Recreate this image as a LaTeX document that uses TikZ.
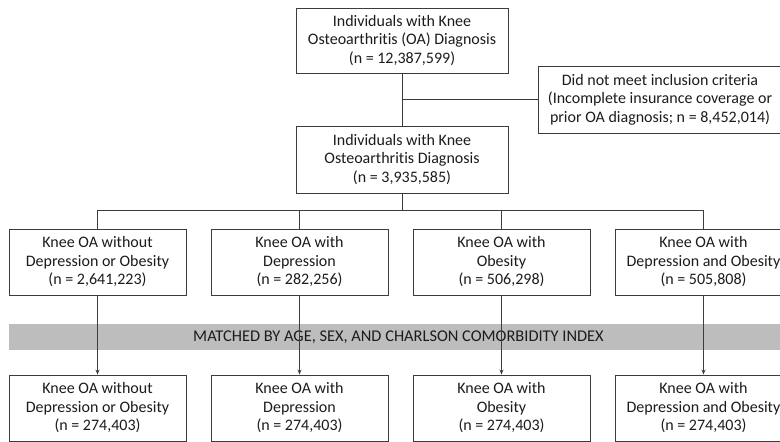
\documentclass[tikz,border=0pt]{standalone}
\usepackage{fontspec}
\setmainfont[Ligatures=NoCommon]{Carlito}
\usepackage{tikz}
\usetikzlibrary{arrows.meta}
\definecolor{linegray}{HTML}{3C3C3C}
\definecolor{bandgray}{HTML}{BDBDBD}
\definecolor{textgray}{HTML}{1C1C1C}

\begin{document}
\begin{tikzpicture}[x=1pt,y=-1pt,
  box/.style={draw=linegray,line width=0.9pt,fill=white,align=center,inner sep=0pt,
    text=textgray,font=\fontsize{16}{18.5}\selectfont},
  arr/.style={draw=linegray,line width=0.8pt,-{Stealth[length=5pt,width=4pt]}},
  ln/.style={draw=linegray,line width=0.8pt}]
\useasboundingbox (0,0) rectangle (780,442);
%flow at the top
\node[box,minimum width=212,minimum height=65] (top) at (402,40.5)
  {Individuals with Knee\\Osteoarthritis (OA) Diagnosis\\(n = 12,387,599)};
\node[box,minimum width=244,minimum height=67] (excl) at (660,99.5)
  {Did not meet inclusion criteria\\(Incomplete insurance coverage or\\prior OA diagnosis; n = 8,452,014)};
\node[box,minimum width=212,minimum height=67] (mid) at (402,159.5)
  {Individuals with Knee\\Osteoarthritis Diagnosis\\(n = 3,935,585)};
\draw[ln] (top.south) -- (mid.north);
\draw[ln] (top.south |- excl.west) -- (excl.west);
\coordinate (split) at (402,210);
\draw[ln] (mid.south) -- (split);
%the four groups
\node[box,minimum width=177,minimum height=66] (a1) at (97.5,262)
  {Knee OA without\\Depression or Obesity\\(n = 2,641,223)};
\node[box,minimum width=177,minimum height=66] (a2) at (299.5,262)
  {Knee OA with\\Depression\\(n = 282,256)};
\node[box,minimum width=177,minimum height=66] (a3) at (501.5,262)
  {Knee OA with\\Obesity\\(n = 506,298)};
\node[box,minimum width=177,minimum height=66] (a4) at (703.5,262)
  {Knee OA with\\Depression and Obesity\\(n = 505,808)};
\draw[ln] (a1.north) -- (a1.north |- split) -- (a4.north |- split) -- (a4.north);
\draw[ln] (a2.north) -- (a2.north |- split);
\draw[ln] (a3.north) -- (a3.north |- split);
%matching band
\node[fill=bandgray,minimum width=771,minimum height=26,inner sep=0pt,text=textgray,
  font=\fontsize{16.4}{18}\selectfont] (band) at (394.5,337)
  {\hspace*{8pt}MATCHED BY AGE, SEX, AND CHARLSON COMORBIDITY INDEX};
%matched groups
\node[box,minimum width=177,minimum height=66] (b1) at (97.5,408)
  {Knee OA without\\Depression or Obesity\\(n = 274,403)};
\node[box,minimum width=177,minimum height=66] (b2) at (299.5,408)
  {Knee OA with\\Depression\\(n = 274,403)};
\node[box,minimum width=177,minimum height=66] (b3) at (501.5,408)
  {Knee OA with\\Obesity\\(n = 274,403)};
\node[box,minimum width=177,minimum height=66] (b4) at (703.5,408)
  {Knee OA with\\Depression and Obesity\\(n = 274,403)};
\draw[arr] (a1) -- (b1);
\draw[arr] (a2) -- (b2);
\draw[arr] (a3) -- (b3);
\draw[arr] (a4) -- (b4);
\end{tikzpicture}
\end{document}
